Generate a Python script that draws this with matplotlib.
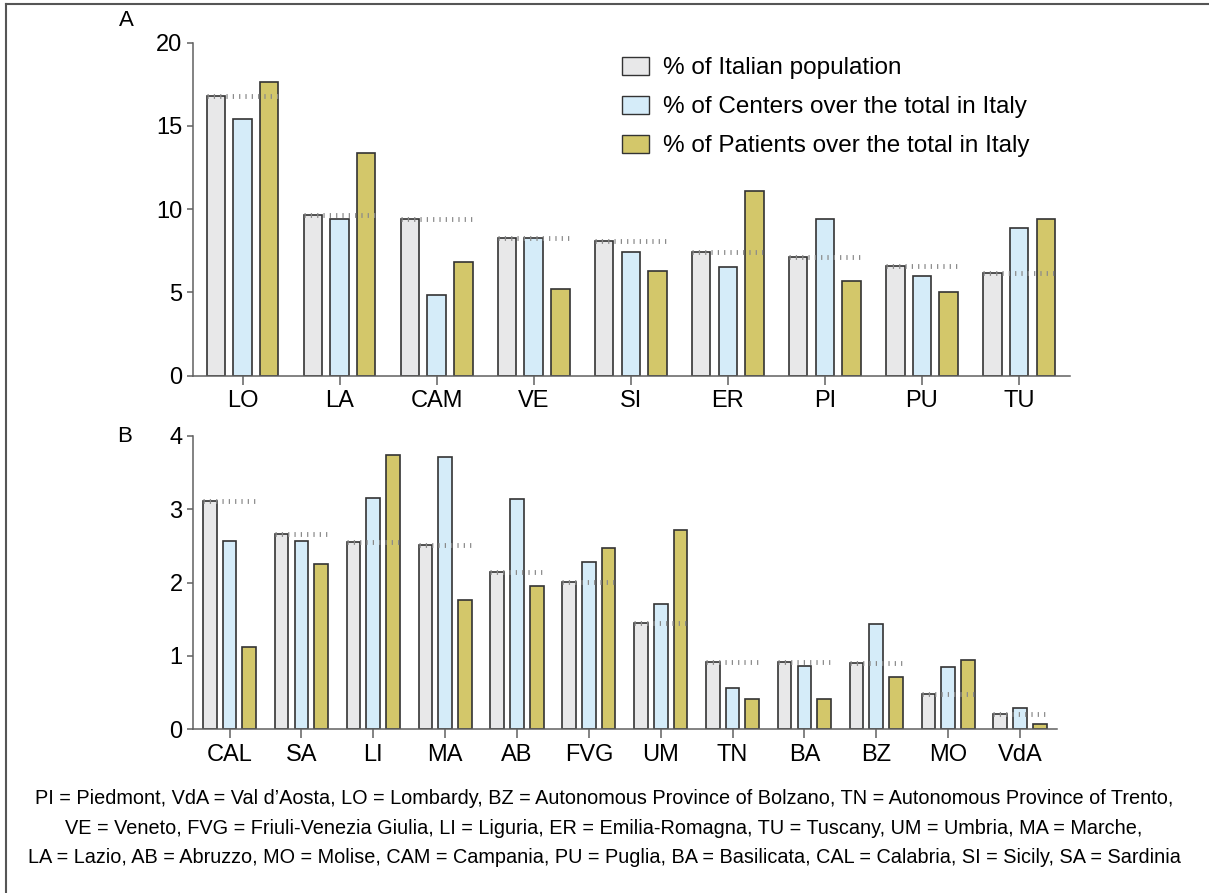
import matplotlib
matplotlib.use('Agg')
import matplotlib.pyplot as plt
from matplotlib.lines import Line2D
from matplotlib.patches import Patch
import numpy as np

# panel A regions
regions_a = ['LO', 'LA', 'CAM', 'VE', 'SI', 'ER', 'PI', 'PU', 'TU']
pop_a = [16.8, 9.65, 9.4, 8.25, 8.1, 7.45, 7.15, 6.6, 6.15]
centers_a = [15.4, 9.4, 4.85, 8.25, 7.4, 6.55, 9.4, 5.97, 8.85]
patients_a = [17.65, 13.4, 6.85, 5.2, 6.3, 11.1, 5.7, 5.05, 9.4]

# panel B regions
regions_b = ['CAL', 'SA', 'LI', 'MA', 'AB', 'FVG', 'UM', 'TN', 'BA', 'BZ', 'MO', 'VdA']
pop_b = [3.12, 2.67, 2.55, 2.51, 2.15, 2.01, 1.45, 0.92, 0.92, 0.91, 0.48, 0.21]
centers_b = [2.57, 2.57, 3.15, 3.72, 3.14, 2.28, 1.71, 0.56, 0.86, 1.44, 0.85, 0.29]
patients_b = [1.12, 2.26, 3.74, 1.76, 1.95, 2.47, 2.72, 0.42, 0.42, 0.72, 0.95, 0.07]

series_labels = ['% of Italian population',
                 '% of Centers over the total in Italy',
                 '% of Patients over the total in Italy']
colors = ['#e8e8e9', '#d5ecf9', '#d3c76a']
edge = '#333333'
spine_col = '#606060'

footnote = ("PI = Piedmont, VdA = Val d\u2019Aosta, LO = Lombardy, BZ = Autonomous Province of Bolzano, TN = Autonomous Province of Trento,\n"
            "VE = Veneto, FVG = Friuli-Venezia Giulia, LI = Liguria, ER = Emilia-Romagna, TU = Tuscany, UM = Umbria, MA = Marche,\n"
            "LA = Lazio, AB = Abruzzo, MO = Molise, CAM = Campania, PU = Puglia, BA = Basilicata, CAL = Calabria, SI = Sicily, SA = Sardinia")

plt.rcParams['font.family'] = ['Liberation Sans', 'DejaVu Sans']

W, H = 1209, 893
fig = plt.figure(figsize=(W / 100, H / 100), dpi=100)

width = 0.19
pitch = 0.275


def draw_panel(ax, regions, pop, centers, patients, ymax, yticks, xlim):
    x = np.arange(len(regions))
    for i, vals in enumerate([pop, centers, patients]):
        ax.bar(x + (i - 1) * pitch, vals, width, color=colors[i], edgecolor=edge,
               linewidth=1.2, zorder=2)
    # dotted reference line at population level
    for xi, p in zip(x, pop):
        ax.plot([xi - pitch - width / 2, xi + pitch + width / 2], [p, p], color='#8a8a8a',
                linewidth=3.5, linestyle=(0, (0.25, 1.05)), dash_capstyle='butt', zorder=3)
    ax.set_xlim(*xlim)
    ax.set_ylim(0, ymax)
    ax.set_yticks(yticks)
    ax.set_xticks(x)
    ax.set_xticklabels(regions)
    for s in ['top', 'right']:
        ax.spines[s].set_visible(False)
    for s in ['left', 'bottom']:
        ax.spines[s].set_color(spine_col)
        ax.spines[s].set_linewidth(1.1)
    ax.tick_params(axis='y', length=4.5, width=1.1, color=spine_col, pad=3, labelsize=17)
    ax.tick_params(axis='x', length=6.5, width=1.1, color=spine_col, pad=4, labelsize=17)


ax1 = fig.add_axes([193 / W, 1 - 375.7 / H, (1070 - 193) / W, (375.7 - 42.7) / H])
draw_panel(ax1, regions_a, pop_a, centers_a, patients_a, 20, [0, 5, 10, 15, 20], (-0.51, 8.525))

ax2 = fig.add_axes([193 / W, 1 - 729.3 / H, (1057 - 193) / W, (729.3 - 436) / H])
draw_panel(ax2, regions_b, pop_b, centers_b, patients_b, 4, [0, 1, 2, 3, 4], (-0.508, 11.515))

handles = [Patch(facecolor=c, edgecolor=edge, linewidth=1.0) for c in colors]
ax1.legend(handles, series_labels, loc='upper left', bbox_to_anchor=(622 / W, 1 - 57 / H),
           bbox_transform=fig.transFigure, frameon=False, fontsize=17.5,
           handlelength=1.1, handleheight=0.75, handletextpad=0.6, labelspacing=0.68,
           borderpad=0, borderaxespad=0)

fig.text(126 / W, 1 - 20 / H, 'A', fontsize=16, ha='center', va='center')
fig.text(125 / W, 1 - 437 / H, 'B', fontsize=16, ha='center', va='center')

fig.text(604 / W, 1 - 828 / H, footnote, fontsize=14.3, ha='center', va='center',
         linespacing=1.68)

# frame lines on top and left
fig.add_artist(Line2D([6 / W, 1], [1 - 4 / H, 1 - 4 / H], color='#555555', linewidth=1.5))
fig.add_artist(Line2D([6 / W, 6 / W], [0, 1 - 4 / H], color='#555555', linewidth=1.5))

fig.savefig('out.png', dpi=100)
